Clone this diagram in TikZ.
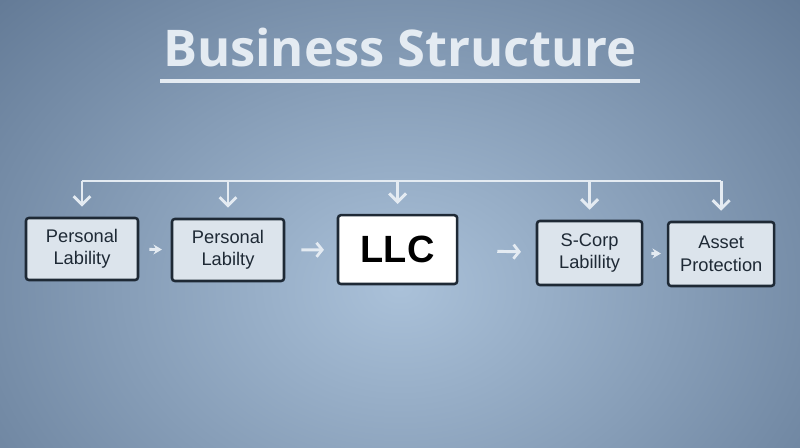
\documentclass[tikz,border=0pt]{standalone}
\usepackage{fontspec}
\setmainfont{Liberation Sans}
\newfontfamily\titlefont{Open Sans}
\usetikzlibrary{arrows.meta}

\definecolor{bgmid}{HTML}{AAC1D9}
\definecolor{bgedge}{HTML}{3F5674}
\definecolor{boxfill}{HTML}{DCE4EC}
\definecolor{boxline}{HTML}{1E2935}
\definecolor{wire}{HTML}{E4EBF2}

\begin{document}
\begin{tikzpicture}[
    block/.style={rectangle, draw=boxline, line width=1.8pt, rounded corners=2pt, fill=boxfill,
        minimum width=2.8cm, minimum height=1.55cm, align=center, text=boxline,
        font=\fontsize{13}{16}\selectfont},
    wire/.style={draw=wire, line width=2.1pt},
    drop/.style={wire, -{Straight Barb[length=6pt,width=12pt,line width=2.1pt]}},
    flow/.style={wire, -{Stealth[length=6pt,width=7pt]}},
    longflow/.style={wire, -{Straight Barb[length=4pt,width=10pt,line width=2pt]}}
]

% Background
\useasboundingbox (0,0) rectangle (20,11.2);
\begin{scope}
\clip (0,0) rectangle (20,11.2);
\shade[inner color=bgmid, outer color=bgedge] (-11,-12) rectangle (31,20);
\end{scope}

% Title
\node[text=wire, font=\titlefont\bfseries\fontsize{36}{40}\selectfont] at (10,10.0) (title) {Business Structure};
\draw[wire, line width=2.2pt] (4.0,9.175) -- (16.0,9.175);

% Boxes
\node[block] at (2.05,4.975) (pl1) {Personal\\Lability};
\node[block] at (5.7,4.95) (pl2) {Personal\\Labilty};
\node[block, fill=white, text=black, minimum width=2.98cm, minimum height=1.72cm,
    font=\bfseries\fontsize{27}{30}\selectfont] at (9.94,4.96) (llc) {LLC};
\node[block, minimum width=2.63cm, minimum height=1.6cm] at (14.74,4.875) (scorp) {S-Corp\\Labillity};
\node[block, minimum width=2.65cm, minimum height=1.6cm] at (18.03,4.85) (asset) {Asset\\Protection};

% Bus line over the boxes
\coordinate (bus) at (0,6.675);
\draw[wire] (pl1.north |- bus) -- (asset.north |- bus);
\foreach \b in {pl1,pl2,llc,scorp,asset}
    \draw[drop] (\b.north |- bus) -- ([yshift=0.25cm]\b.north);

% Arrows between boxes
\draw[flow, shorten <=0.25cm, shorten >=0.22cm] (pl1) -- (pl2);
\draw[longflow, shorten <=0.4cm, shorten >=0.32cm] (pl2) -- (llc);
\draw[longflow, shorten <=0.97cm, shorten >=0.37cm] (llc) -- (scorp);
\draw[flow, shorten <=0.2cm, shorten >=0.15cm] (scorp) -- (asset);

\end{tikzpicture}
\end{document}
